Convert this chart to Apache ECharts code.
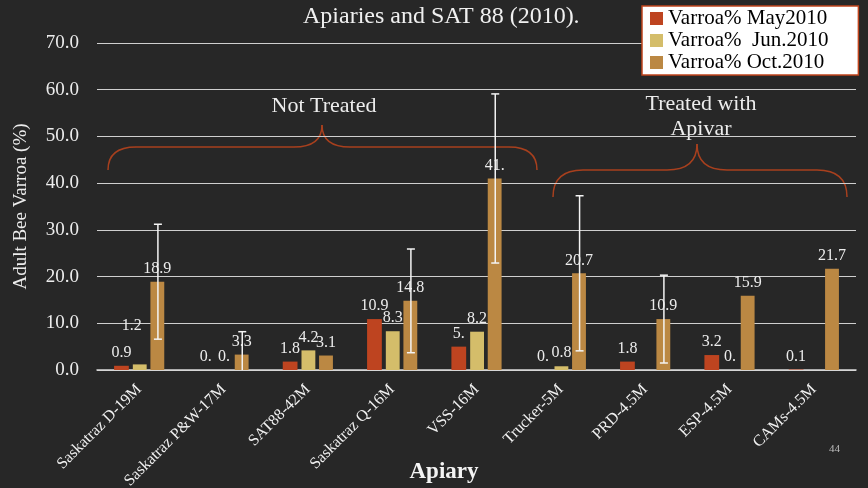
<!DOCTYPE html>
<html>
<head>
<meta charset="utf-8">
<script src="https://cdn.jsdelivr.net/npm/echarts@6/dist/echarts.min.js"></script>
<style>
  html, body { margin: 0; padding: 0; background: #272727; }
  #chart { width: 868px; height: 488px; }
</style>
</head>
<body>
<div id="chart"></div>
<script>
(function(){
  // 数据
  var apiaries = ['Saskatraz D-19M', 'Saskatraz P&W-17M', 'SAT88-42M', 'Saskatraz Q-16M', 'VSS-16M',
                  'Trucker-5M', 'PRD-4.5M', 'ESP-4.5M', 'CAMs-4.5M'];
  var may2010 = [0.9, 0, 1.8, 10.9, 5.0, 0, 1.8, 3.2, 0.1];
  var jun2010 = [1.2, 0, 4.2, 8.3, 8.2, 0.8, null, 0, null];
  var oct2010 = [18.9, 3.3, 3.1, 14.8, 41.0, 20.7, 10.9, 15.9, 21.7];
  var octError = [12.3, 4.9, null, 11.1, 18.1, 16.6, 9.4, null, null];
  var yTicks = [0, 10, 20, 30, 40, 50, 60, 70];

  var serif = '"Liberation Serif", "DejaVu Serif", serif';
  var myChart = echarts.init(document.getElementById('chart'));

  function fmt(p) {
    var v = p.value;
    if (v == null) return '';
    return Number.isInteger(v) ? v + '.' : String(v);
  }

  var labelStyle = {
    show: true, position: 'top', distance: 5,
    color: '#ececec', fontFamily: serif, fontSize: 16,
    formatter: fmt
  };

  // 误差线数据
  var errData = [];
  oct2010.forEach(function(v, i) {
    if (octError[i] != null) errData.push([i, v - octError[i], v + octError[i]]);
  });

  // 花括号：由二次曲线和直线拼成
  function brace(x0, x1, xc, yTip, yH, yPeak, r) {
    var st = { fill: null, stroke: '#a8401e', lineWidth: 1.5 };
    function q(a, b, c, d, e, f) {
      return { type: 'bezierCurve', shape: { x1: a, y1: b, cpx1: c, cpy1: d, x2: e, y2: f }, style: st };
    }
    function l(a, b, c, d) {
      return { type: 'line', shape: { x1: a, y1: b, x2: c, y2: d }, style: st };
    }
    return {
      type: 'group',
      children: [
        q(x0, yTip, x0, yH, x0 + r, yH),
        l(x0 + r, yH, xc - r, yH),
        q(xc - r, yH, xc, yH, xc, yPeak),
        q(xc, yPeak, xc, yH, xc + r, yH),
        l(xc + r, yH, x1 - r, yH),
        q(x1 - r, yH, x1, yH, x1, yTip)
      ]
    };
  }

  var option = {
    backgroundColor: '#272727',
    color: ['#be4420', '#d4bd6a', '#bb8843'],
    title: {
      text: 'Apiaries and SAT 88 (2010).',
      left: 298, top: 0,
      textStyle: { color: '#f0f0f0', fontFamily: serif, fontSize: 24, fontWeight: 'normal' }
    },
    legend: {
      orient: 'vertical',
      left: 642, top: 6,
      backgroundColor: '#ffffff',
      borderColor: '#c0441c', borderWidth: 1.5,
      padding: [2, 30, 2, 8],
      itemGap: 1,
      itemWidth: 13, itemHeight: 13,
      icon: 'rect',
      textStyle: { color: '#000', fontFamily: serif, fontSize: 21 },
      data: ['Varroa% May2010', 'Varroa%  Jun.2010', 'Varroa% Oct.2010']
    },
    grid: { left: 97, right: 12, top: 43, bottom: 118, outerBoundsMode: 'none', containLabel: false },
    xAxis: {
      type: 'category',
      data: apiaries,
      axisLine: { lineStyle: { color: '#d9d9d9', width: 1.5 } },
      axisTick: { show: false },
      axisLabel: {
        rotate: 45, margin: 17, interval: 0,
        color: '#f0f0f0', fontFamily: serif, fontSize: 16
      }
    },
    yAxis: {
      type: 'value',
      min: yTicks[0], max: yTicks[yTicks.length - 1], interval: 10,
      name: 'Adult Bee Varroa (%)',
      nameLocation: 'middle',
      nameGap: 66,
      nameTextStyle: { color: '#ececec', fontFamily: serif, fontSize: 19 },
      axisLine: { show: false },
      axisTick: { show: false },
      axisLabel: {
        margin: 18, color: '#ececec', fontFamily: serif, fontSize: 19,
        formatter: function(v) { return v.toFixed(1); }
      },
      splitLine: { lineStyle: { color: '#cfcfcf', width: 1.2 } }
    },
    series: [
      {
        name: 'Varroa% May2010', type: 'bar',
        barWidth: '17.5%', barGap: '27%',
        data: may2010, label: labelStyle
      },
      {
        name: 'Varroa%  Jun.2010', type: 'bar',
        data: jun2010.map(function(v, i) {
          // 1.2 的标签在原图中偏左上
          if (i === 0) return { value: v, label: { offset: [-8, -26] } };
          return v;
        }),
        label: labelStyle
      },
      {
        name: 'Varroa% Oct.2010', type: 'bar',
        data: oct2010, label: labelStyle
      },
      {
        type: 'custom',
        clip: true,
        silent: true,
        z: 10,
        data: errData,
        renderItem: function(params, api) {
          var band = api.size([1, 0])[0];
          var off = band * 0.175 * 1.27;
          var lo = api.coord([api.value(0), api.value(1)]);
          var hi = api.coord([api.value(0), api.value(2)]);
          var x = lo[0] + off;
          var cap = 4;
          var st = { stroke: '#f4f4f4', lineWidth: 1.5 };
          return {
            type: 'group',
            children: [
              { type: 'line', shape: { x1: x, y1: lo[1], x2: x, y2: hi[1] }, style: st },
              { type: 'line', shape: { x1: x - cap, y1: hi[1], x2: x + cap, y2: hi[1] }, style: st },
              { type: 'line', shape: { x1: x - cap, y1: lo[1], x2: x + cap, y2: lo[1] }, style: st }
            ]
          };
        }
      }
    ],
    graphic: [
      {
        type: 'text', x: 324, y: 106,
        style: { text: 'Not Treated', fill: '#ececec', font: '22px ' + serif, align: 'center', verticalAlign: 'middle' }
      },
      {
        type: 'text', x: 701, y: 92,
        style: { text: 'Treated with\nApivar', fill: '#ececec', font: '22px ' + serif, align: 'center', lineHeight: 25 }
      },
      brace(108, 537, 322, 170, 147, 125, 28),
      brace(553, 847, 697, 197, 170, 144, 30),
      {
        type: 'text', x: 444, y: 472,
        style: { text: 'Apiary', fill: '#f4f4f4', font: 'bold 23px ' + serif, align: 'center', verticalAlign: 'middle' }
      },
      {
        type: 'text', x: 829, y: 444,
        style: { text: '44', fill: '#bdbdbd', font: '11px ' + serif }
      }
    ]
  };

  myChart.setOption(option);

  window.addEventListener('resize', function() {
    myChart.resize();
  });
})();
</script>
</body>
</html>
